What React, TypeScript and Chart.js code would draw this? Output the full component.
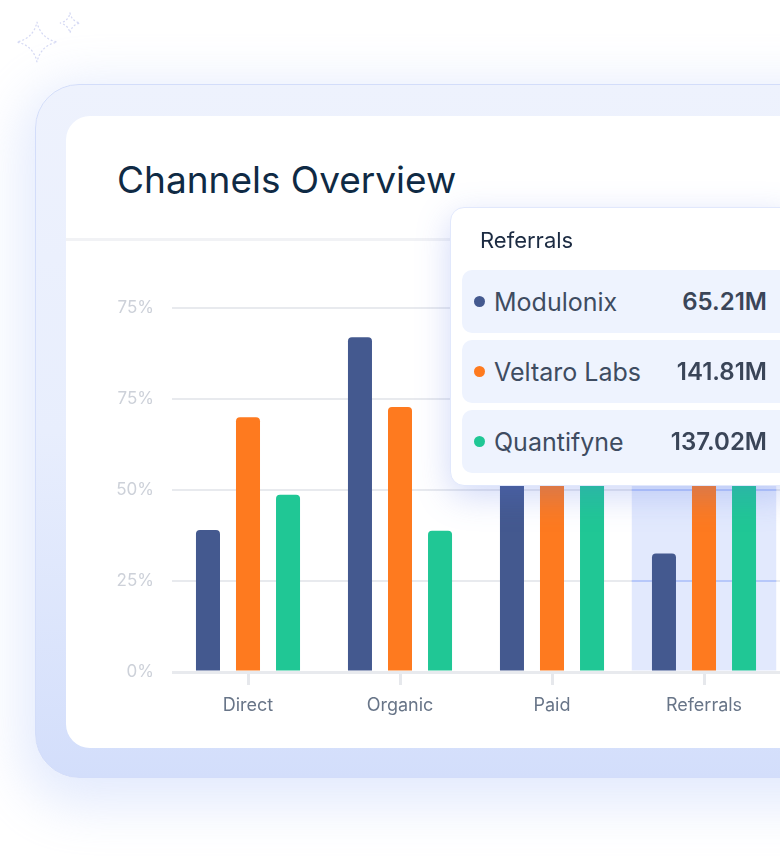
import React, { useEffect, useRef } from 'react';
import { Chart, registerables } from 'chart.js';

Chart.register(...registerables);

// chart values (M)
const categories = ['Direct', 'Organic', 'Paid', 'Referrals'];
const seriesNames = ['Modulonix', 'Veltaro Labs', 'Quantifyne'];
const modulonix = [78, 184, 118, 65.21];
const veltaroLabs = [140, 145.7, 156, 141.81];
const quantifyne = [97.5, 77.7, 132, 137.02];
const seriesColors = ['#44598f', '#fe7a1f', '#20c795'];
const yTickLabels = ['0%', '25%', '50%', '75%', '75%'];
const activeIndex = 3;

const FONT = 'Inter, "Noto Sans", sans-serif';

// light blue band behind the hovered category
const hoverBand = {
  id: 'hoverBand',
  beforeDatasetsDraw(chart: any) {
    const { ctx, chartArea, scales } = chart;
    const x = scales.x;
    const y = scales.y;
    const catW = (x.right - x.left) / categories.length;
    const cx = x.getPixelForValue(activeIndex);
    const left = cx - catW * 0.475;
    const right = cx + catW * 0.475;
    ctx.save();
    ctx.fillStyle = 'rgba(110, 145, 245, 0.2)';
    ctx.fillRect(left, chartArea.top, right - left, chartArea.bottom - chartArea.top - 1.5);
    ctx.strokeStyle = '#b7c8fa';
    ctx.lineWidth = 2;
    y.ticks.forEach((t: any) => {
      if (t.value === 0) return;
      const py = y.getPixelForValue(t.value);
      ctx.beginPath();
      ctx.moveTo(left, py);
      ctx.lineTo(right, py);
      ctx.stroke();
    });
    ctx.restore();
  },
};

function Sparkle({ cx, cy, r }: { cx: number; cy: number; r: number }) {
  const k = r * 0.18;
  const d = `M ${cx} ${cy - r} Q ${cx + k} ${cy - k} ${cx + r} ${cy} Q ${cx + k} ${cy + k} ${cx} ${cy + r} Q ${cx - k} ${cy + k} ${cx - r} ${cy} Q ${cx - k} ${cy - k} ${cx} ${cy - r} Z`;
  return <path d={d} fill="none" stroke="#d6daf4" strokeWidth={1.3} strokeDasharray="1 3" strokeLinecap="round" />;
}

export default function App() {
  const canvasRef = useRef<HTMLCanvasElement | null>(null);
  const chartRef = useRef<any>(null);

  useEffect(() => {
    if (!canvasRef.current) return;
    if (chartRef.current) chartRef.current.destroy();

    const values = [modulonix, veltaroLabs, quantifyne];
    chartRef.current = new Chart(canvasRef.current, {
      type: 'bar',
      data: {
        labels: categories,
        datasets: seriesNames.map((name, i) => ({
          label: name,
          data: values[i],
          backgroundColor: seriesColors[i],
          borderRadius: 4,
          borderSkipped: 'start',
          barPercentage: 0.6,
          categoryPercentage: 0.79,
        })),
      },
      options: {
        responsive: true,
        maintainAspectRatio: false,
        animation: false,
        layout: { padding: { top: 27, right: 0, bottom: 0, left: 0 } },
        plugins: {
          legend: { display: false },
          tooltip: { enabled: false },
          title: { display: false },
        },
        scales: {
          x: {
            offset: true,
            afterFit: (s: any) => { s.height = 48; },
            grid: {
              offset: false,
              drawOnChartArea: false,
              drawTicks: true,
              tickLength: 13,
              color: '#e6e8ec',
              lineWidth: 3,
            },
            border: { display: false },
            ticks: {
              padding: 10,
              color: '#687588',
              font: { family: FONT, size: 18 },
            },
          },
          y: {
            min: 0,
            max: 200,
            afterFit: (s: any) => { s.width = 72; },
            grid: {
              drawTicks: false,
              color: '#e8eaee',
              lineWidth: (c: any) => (c.tick && c.tick.value === 0 ? 3 : 2),
            },
            border: { display: false },
            ticks: {
              stepSize: 50,
              padding: 18,
              color: '#cdd1d9',
              font: { family: FONT, size: 17 },
              callback: (_v: any, i: number) => yTickLabels[i],
            },
          },
        },
      },
      plugins: [hoverBand],
    });

    return () => {
      if (chartRef.current) {
        chartRef.current.destroy();
        chartRef.current = null;
      }
    };
  }, []);

  const activeValues = [modulonix[activeIndex], veltaroLabs[activeIndex], quantifyne[activeIndex]];

  return (
    <div style={{ position: 'fixed', inset: 0, overflow: 'hidden', background: '#ffffff', fontFamily: FONT }}>
      <svg width={120} height={80} style={{ position: 'absolute', left: 0, top: 0 }}>
        <Sparkle cx={37} cy={42} r={20} />
        <Sparkle cx={70} cy={23} r={10} />
      </svg>

      {/* outer frame */}
      <div
        style={{
          position: 'absolute',
          left: 35,
          top: 84,
          width: 840,
          height: 694,
          borderRadius: 44,
          background: 'linear-gradient(180deg, #eef2fd 0%, #e8eefd 50%, #d3defb 100%)',
          border: '1.5px solid #d3ddfa',
          boxSizing: 'border-box',
          boxShadow: '0 14px 50px 14px rgba(196, 210, 250, 0.45)',
        }}
      />

      {/* white card */}
      <div
        style={{
          position: 'absolute',
          left: 66,
          top: 116,
          width: 800,
          height: 632,
          borderRadius: 24,
          background: '#ffffff',
        }}
      />

      <div
        style={{
          position: 'absolute',
          left: 117,
          top: 161,
          fontSize: 37,
          lineHeight: 1,
          fontWeight: 400,
          color: '#0f2a44',
          whiteSpace: 'nowrap',
        }}
      >
        Channels Overview
      </div>

      <div style={{ position: 'absolute', left: 66, top: 238, width: 800, height: 3, background: '#f1f2f5' }} />

      <div style={{ position: 'absolute', left: 100, top: 280, width: 680, height: 440 }}>
        <canvas ref={canvasRef} />
      </div>

      {/* tooltip */}
      <div
        style={{
          position: 'absolute',
          left: 450,
          top: 207,
          width: 345,
          height: 279,
          borderRadius: 14,
          background: '#ffffff',
          border: '1px solid #e1e8fc',
          boxSizing: 'border-box',
          boxShadow: '0 10px 34px rgba(90, 120, 230, 0.28)',
        }}
      >
        <div
          style={{
            position: 'absolute',
            left: 29,
            top: 21,
            fontSize: 22,
            lineHeight: 1,
            color: '#1c2b42',
          }}
        >
          {categories[activeIndex]}
        </div>
        {seriesNames.map((name, i) => (
          <div
            key={name}
            style={{
              position: 'absolute',
              left: 11,
              top: 62 + i * 70,
              width: 330,
              height: 63,
              borderRadius: 10,
              background: '#eef3fe',
              display: 'flex',
              alignItems: 'center',
              boxSizing: 'border-box',
              paddingLeft: 12,
            }}
          >
            <span
              style={{
                width: 11,
                height: 11,
                borderRadius: '50%',
                background: seriesColors[i],
                marginRight: 9,
                flex: 'none',
              }}
            />
            <span style={{ fontSize: 25, color: '#3e4c61', flex: 1 }}>{name}</span>
            <span
              style={{
                position: 'absolute',
                right: 25,
                fontSize: 24,
                fontWeight: 600,
                color: '#3a4558',
              }}
            >
              {activeValues[i].toFixed(2)}M
            </span>
          </div>
        ))}
      </div>
    </div>
  );
}
